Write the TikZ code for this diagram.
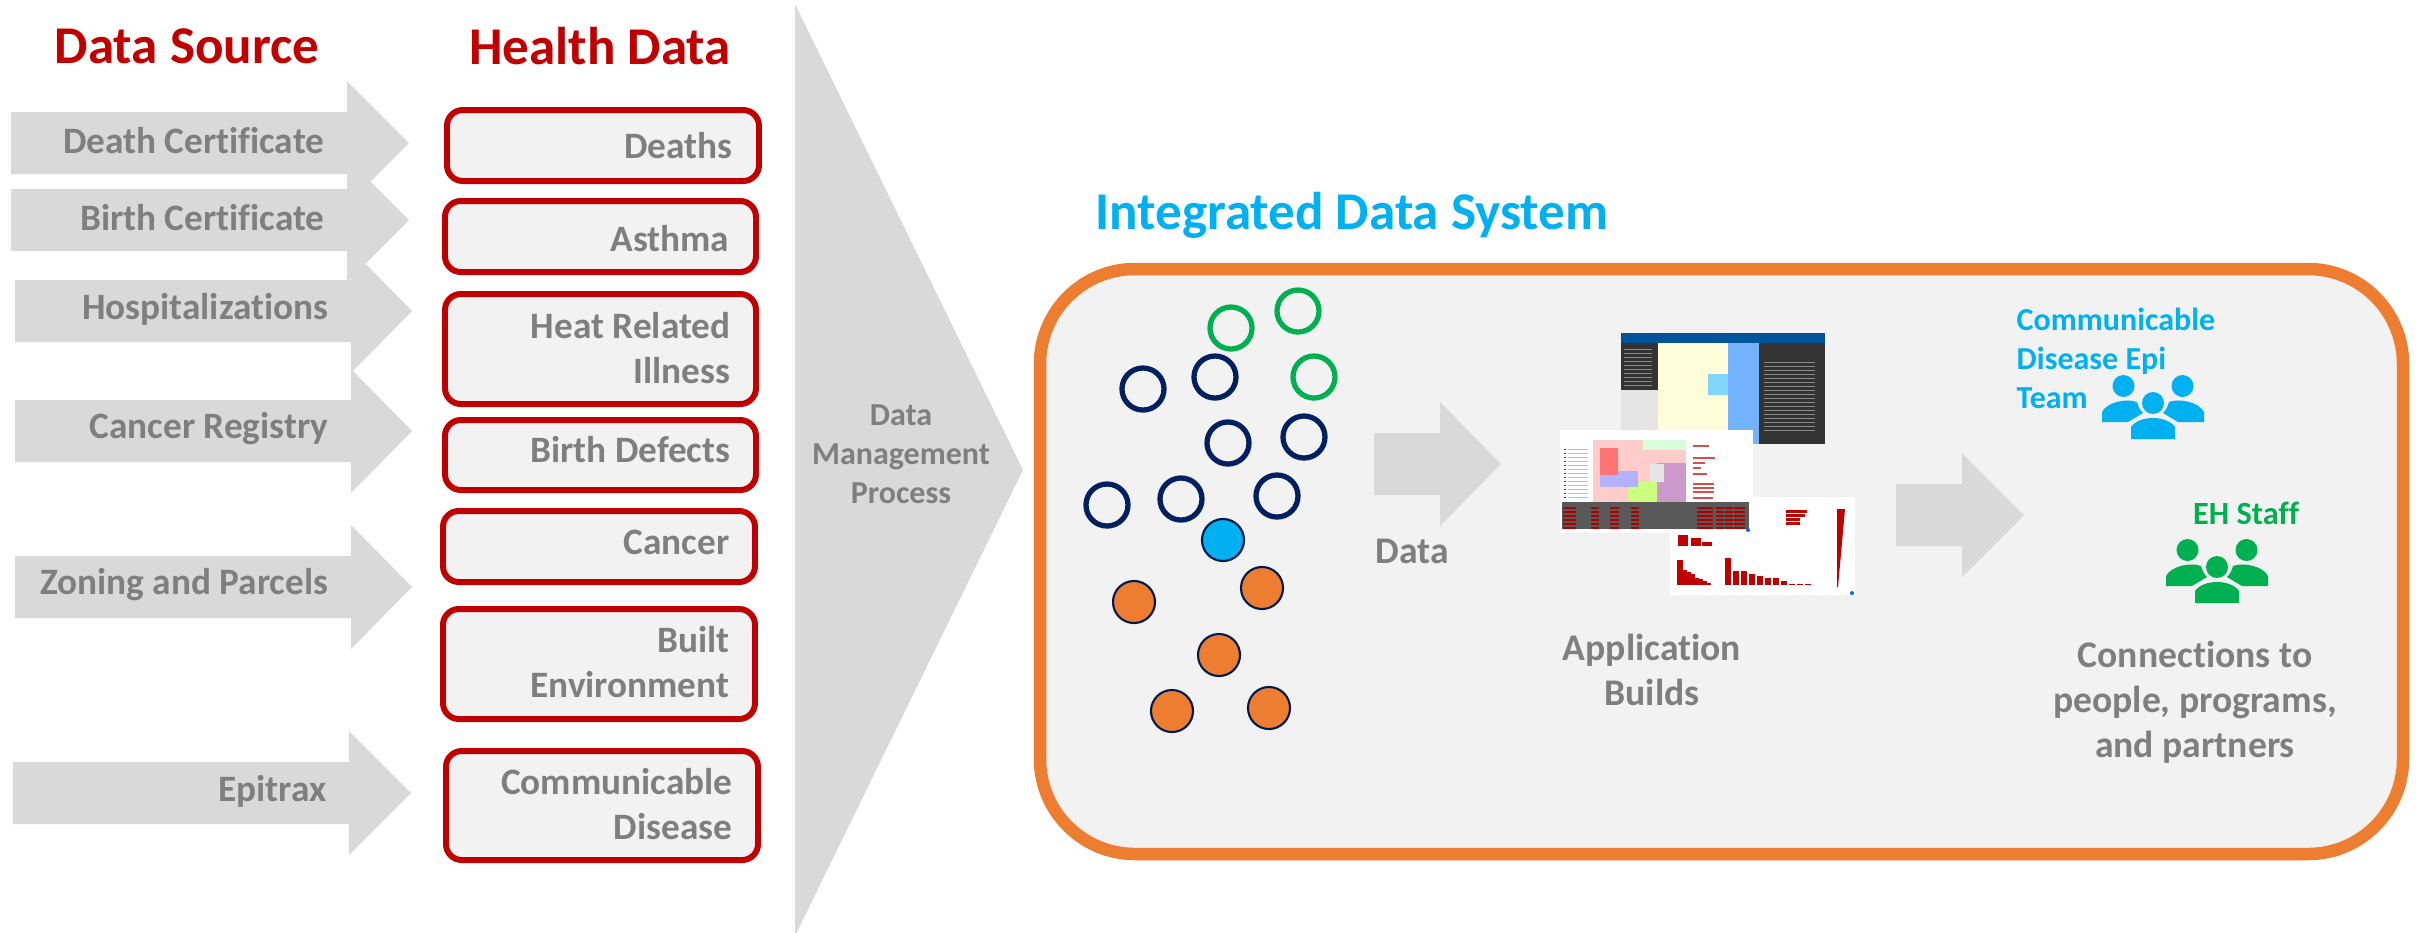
\documentclass[tikz,border=0pt]{standalone}
\usepackage{fontspec}
\setmainfont[Ligatures=CommonOff]{Carlito}
\definecolor{hdred}{HTML}{C00000}
\definecolor{arrowgray}{HTML}{D9D9D9}
\definecolor{panelgray}{HTML}{F2F2F2}
\definecolor{textgray}{HTML}{7F7F7F}
\definecolor{sysorange}{HTML}{ED7D31}
\definecolor{sysblue}{HTML}{00B0F0}
\definecolor{sysgreen}{HTML}{00B050}
\definecolor{sysnavy}{HTML}{002060}
\tikzset{
	heading/.style={text=hdred, font=\bfseries\fontsize{15.1}{17}\selectfont, inner sep=0pt},
	srclabel/.style={text=textgray, font=\bfseries\fontsize{10.6}{12}\selectfont, anchor=east, inner sep=0pt},
	healthlabel/.style={text=textgray, font=\bfseries\fontsize{10.6}{12.7}\selectfont, anchor=east, align=right, inner sep=0pt},
	healthbox/.style={draw=hdred, fill=panelgray, line width=1.7pt, rounded corners=4.5pt},
	grayarrow/.style={fill=arrowgray},
	sidelabel/.style={text=textgray, font=\bfseries\fontsize{10.7}{12.8}\selectfont, align=center, inner sep=0pt},
	ringnavy/.style={circle, draw=sysnavy, line width=1.5pt, minimum size=0.42cm, inner sep=0pt},
	ringgreen/.style={ringnavy, draw=sysgreen},
	dotfill/.style={circle, draw=sysnavy!80!black, line width=0.6pt, minimum size=0.42cm, inner sep=0pt},
}
\newcommand{\srcarrow}[4]{% left, neck x, tip x, centre y
	\fill[grayarrow] (#1,#4-31) -- (#2,#4-31) -- (#2,#4-62) -- (#3,#4) -- (#2,#4+62) -- (#2,#4+31) -- (#1,#4+31) -- cycle;
}
\newcommand{\people}[3]{% centre x, centre y, colour
	\begin{scope}[shift={(#1,#2)}, fill=#3]
		\fill (-29.5,-17) circle (11);
		\fill (29.5,-17) circle (11);
		\fill (0,0) circle (11);
		\fill (-51,19) -- (-51,9) .. controls (-46,-1) and (-26,-5) .. (-16,-1) .. controls (-15,3) and (-13,7) .. (-10,10) -- (-25,19) -- cycle;
		\fill (51,19) -- (51,9) .. controls (46,-1) and (26,-5) .. (16,-1) .. controls (15,3) and (13,7) .. (10,10) -- (25,19) -- cycle;
		\fill (-22,36) -- (-22,24) .. controls (-14,12) and (14,12) .. (22,24) -- (22,36) -- cycle;
	\end{scope}
}
\begin{document}
\begin{tikzpicture}[x=0.01cm,y=-0.01cm]
	\useasboundingbox (0,0) rectangle (2420,932);

	\node[heading] (dsrc) at (187,46) {Data Source};
	\node[heading] (hdata) at (600,46) {Health Data};

	% source arrows
	\srcarrow{11}{347}{409}{143}
	\srcarrow{11}{347}{409}{220}
	\srcarrow{15}{351}{412}{311}
	\srcarrow{15}{351}{412}{431}
	\srcarrow{15}{351}{412}{587}
	\srcarrow{13}{349}{411}{793}

	\node[srclabel] (death) at (325,141) {Death Certificate};
	\node[srclabel] (birth) at (325,218) {Birth Certificate};
	\node[srclabel] (hosp) at (329,309) {Hospitalizations};
	\node[srclabel] (cancerreg) at (329,429) {Cancer Registry};
	\node[srclabel] (zoning) at (329,585) {Zoning and Parcels};
	\node[srclabel] (epitrax) at (327,791) {Epitrax};

	% health boxes
	\draw[healthbox] (447,110) rectangle (759,181);
	\draw[healthbox] (445,201) rectangle (756,272);
	\draw[healthbox] (445,294) rectangle (756,404);
	\draw[healthbox] (445,420) rectangle (756,490);
	\draw[healthbox] (443,511) rectangle (755,582);
	\draw[healthbox] (443,609) rectangle (755,719);
	\draw[healthbox] (446,751) rectangle (758,860);

	\node[healthlabel] (deaths) at (733,146) {Deaths};
	\node[healthlabel] (asthma) at (730,239) {Asthma};
	\node[healthlabel] (heat) at (731,348) {Heat Related\\Illness};
	\node[healthlabel] (bdef) at (731,450) {Birth Defects};
	\node[healthlabel] (cancer) at (730,542) {Cancer};
	\node[healthlabel] (built) at (730,662) {Built\\Environment};
	\node[healthlabel] (comm) at (733,804) {Communicable\\Disease};

	% process chevron
	\fill[grayarrow] (795,4) -- (1023,470) -- (795,936) -- cycle;
	\node[text=textgray, font=\bfseries\fontsize{9.1}{11.1}\selectfont, align=center, inner sep=0pt] (dmp) at (901,454) {Data\\Management\\Process};

	% system panel
	\node[text=sysblue, font=\bfseries\fontsize{15.1}{17}\selectfont, inner sep=0pt] (ids) at (1352,215) {Integrated Data System};
	\draw[draw=sysorange, fill=panelgray, line width=3.55pt, rounded corners=27pt] (1040,269) rectangle (2403,854);

	\foreach \px/\py/\nm in {1231/328/ga, 1298/311/gb, 1314/377/gc}
		\node[ringgreen] (\nm) at (\px,\py) {};
	\foreach \px/\py/\nm in {1143/389/na, 1215/377/nb, 1228/443/nc, 1304/437/nd, 1107/505/ne, 1181/499/nf, 1277/496/ng}
		\node[ringnavy] (\nm) at (\px,\py) {};
	\node[dotfill, fill=sysblue] (bl) at (1223,540) {};
	\foreach \px/\py/\nm in {1134/602/oa, 1262/588/ob, 1219/655/oc, 1172/711/od, 1269/708/oe}
		\node[dotfill, fill=sysorange] (\nm) at (\px,\py) {};

	\srcarrow{1374}{1440}{1501}{464}
	\srcarrow{1896}{1962}{2024}{515}
	\node[sidelabel] (datalbl) at (1412,551) {Data};

	% application builds screenshots
	\begin{scope}
		% dark map
		\fill[black!80] (1621,333) rectangle (1825,444);
		\fill[blue!45!cyan!60!black] (1621,333) rectangle (1825,343);
		\fill[black!10] (1621,390) rectangle (1658,444);
		\fill[yellow!15!white] (1658,343) rectangle (1728,444);
		\fill[blue!55!cyan!55!white] (1728,343) rectangle (1759,444);
		\fill[cyan!50!white] (1708,374) rectangle (1728,395);
		\foreach \ry in {349,353,...,385}
			\fill[black!45] (1624,\ry) rectangle (1652,\ry+1);
		\foreach \ry in {362,366,...,432}
			\fill[black!45] (1764,\ry) rectangle (1815,\ry+1);
		% chart sheet
		\fill[white] (1670,497) rectangle (1855,595);
		\foreach \bx/\bh in {1677/25,1681/15,1685/13,1689/11,1693/7,1697/6,1701/4,1705/2,1725/27,1733/14,1741/14,1749/11,1757/9,1765/7,1773/7,1781/4,1789/1,1797/1,1805/1}
			\fill[hdred] (\bx,585) rectangle (\bx+6,585-\bh);
		\foreach \bx/\bh in {1678/11,1691/8,1702/4}
			\fill[hdred] (\bx,546) rectangle (\bx+10,546-\bh);
		\foreach \by/\bw in {510/21,514/19,518/14,522/14}
			\fill[hdred] (1786,\by) rectangle (1786+\bw,\by+3);
		\fill[hdred] (1837,509) -- (1845,509) -- (1838,587) -- (1837,587) -- cycle;
		\fill[blue!60!cyan] (1852,593) circle (2);
		% facility sheet
		\fill[white] (1560,430) rectangle (1753,533);
		\fill[pink!80!white] (1593,440) rectangle (1686,502);
		\fill[green!15!white] (1643,440) rectangle (1686,450);
		\fill[violet!40!white] (1657,463) rectangle (1686,502);
		\fill[green!40!yellow!50!white] (1628,482) rectangle (1657,502);
		\fill[black!10] (1650,464) rectangle (1664,482);
		\fill[blue!30!white] (1600,471) rectangle (1638,487);
		\fill[red!55!white] (1600,448) rectangle (1618,475);
		\foreach \ry in {449,453,...,497}
			\fill[red!70!black] (1564,\ry) rectangle (1566,\ry+1);
		\foreach \ry in {449,453,...,497}
			\fill[black!25] (1568,\ry) rectangle (1588,\ry+1);
		\foreach \ry/\rw in {445/16,457/22,462/12,467/8,473/14,483/21,487/21,491/21,497/20}
			\fill[red!80!black!70] (1693,\ry) rectangle (1693+\rw,\ry+2);
		\fill[black!65] (1562,502) rectangle (1749,529);
		\foreach \ry in {507,511,...,527}
			\foreach \ca/\cb in {1563/1576,1591/1599,1610/1619,1631/1639,1697/1713,1716/1724,1725/1733,1734/1745}
				\fill[red!70!black] (\ca,\ry) rectangle (\cb,\ry+2);
		\fill[blue!60!cyan] (1748,530) circle (2);
	\end{scope}
	\node[sidelabel] (appb) at (1652,670) {Application\\Builds};

	% people
	\node[text=sysblue, font=\bfseries\fontsize{9.1}{11.1}\selectfont, align=left, anchor=west, inner sep=0pt] (epi) at (2016,358) {Communicable\\Disease Epi\\Team};
	\people{2153}{403}{sysblue}
	\node[text=sysgreen, font=\bfseries\fontsize{9.2}{11}\selectfont, inner sep=0pt] (eh) at (2246,513) {EH Staff};
	\people{2217}{567}{sysgreen}
	\node[sidelabel] (conn) at (2195,702) {Connections to\\people, programs,\\and partners};
\end{tikzpicture}
\end{document}
